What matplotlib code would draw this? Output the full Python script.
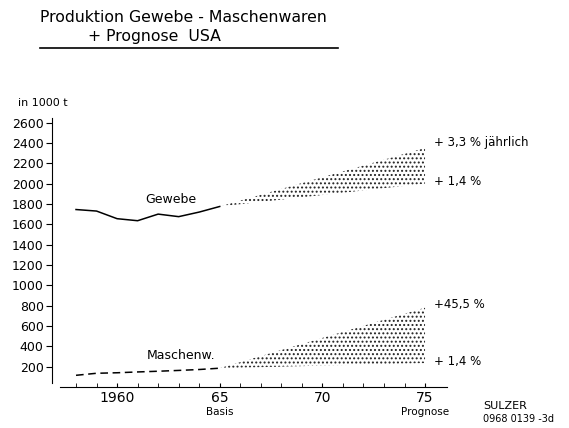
import matplotlib.pyplot as plt
import numpy as np

plt.rcParams['font.family'] = ['DejaVu Sans']
plt.rcParams['hatch.linewidth'] = 0.9

# Gewebe (woven), 1000 t
years = [1958, 1959, 1960, 1961, 1962, 1963, 1964, 1965]
gewebe = [1745, 1730, 1655, 1635, 1700, 1675, 1720, 1775]
# Maschenwaren (knitted), 1000 t
maschen = [115, 135, 140, 148, 155, 163, 172, 185]

# forecast fans 1965 -> 1975 (upper / lower bound)
prog_years = [1965, 1975]
gewebe_hi = [1775, 2350]
gewebe_lo = [1775, 2000]
maschen_hi = [185, 780]
maschen_lo = [185, 235]

yticks = list(range(200, 2601, 200))

fig = plt.figure(figsize=(5.69, 4.28), dpi=100)
ax = fig.add_axes([52/569, 41/428, 395/569, 269/428])

ax.plot(years, gewebe, color='k', lw=1.1)
ax.plot(years, maschen, color='k', lw=1.1, dashes=(5, 3))

for hi, lo in [(gewebe_hi, gewebe_lo), (maschen_hi, maschen_lo)]:
    ax.fill_between(prog_years, lo, hi, facecolor='none', edgecolor='#222222',
                    hatch='....', lw=0)

ax.set_xlim(1956.83, 1976.07)
ax.set_ylim(0, 2645)
ax.spines[['top', 'right']].set_visible(False)
ax.spines['bottom'].set_bounds(1957.2, 1976.07)
ax.spines['left'].set_bounds(40, 2645)

ax.set_yticks(yticks)
ax.set_yticklabels([str(v) for v in yticks], fontsize=9)
ax.tick_params(axis='y', direction='out', length=4, pad=2)

ax.set_xticks([1960, 1965, 1970, 1975])
ax.set_xticklabels(['1960', '65', '70', '75'], fontsize=10)
ax.set_xticks(range(1958, 1976), minor=True)
ax.tick_params(axis='x', which='both', direction='in', length=3, pad=3)

ax.text(1965, -245, 'Basis', ha='center', va='center', fontsize=7.5)
ax.text(1975, -245, 'Prognose', ha='center', va='center', fontsize=7.5)

ax.text(1962.6, 1840, 'Gewebe', ha='center', va='center', fontsize=9)
ax.text(1963.1, 310, 'Maschenw.', ha='center', va='center', fontsize=9)

ax.text(1975.45, 2400, '+ 3,3 % jährlich', ha='left', va='center', fontsize=8.5)
ax.text(1975.45, 2020, '+ 1,4 %', ha='left', va='center', fontsize=8.5)
ax.text(1975.45, 815, '+45,5 %', ha='left', va='center', fontsize=8.5)
ax.text(1975.45, 255, '+ 1,4 %', ha='left', va='center', fontsize=8.5)

fig.text(18/569, 1 - 103/428, 'in 1000 t', ha='left', va='center', fontsize=8)
fig.text(40/569, 1 - 17/428, 'Produktion Gewebe - Maschenwaren', ha='left',
         va='center', fontsize=11.3)
fig.text(88/569, 1 - 37/428, '+ Prognose  USA', ha='left', va='center', fontsize=11.3)
fig.add_artist(plt.Line2D([40/569, 338/569], [1 - 48/428, 1 - 48/428],
                          color='k', lw=1.2))

fig.text(483/569, 1 - 406/428, 'SULZER', ha='left', va='center', fontsize=8)
fig.text(483/569, 1 - 419/428, '0968 0139 -3d', ha='left', va='center', fontsize=7)

fig.savefig('out.png', dpi=100)
